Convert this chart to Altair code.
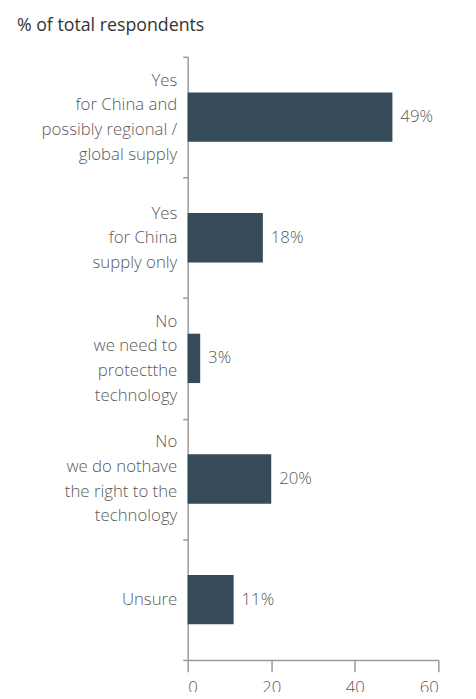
import altair as alt
import pandas as pd

categories = [
    "Yes|for China and|possibly regional /|global supply",
    "Yes|for China|supply only",
    "No|we need to|protectthe|technology",
    "No|we do nothave|the right to the|technology",
    "Unsure",
]
values = [49, 18, 3, 20, 11]
x_ticks = [0, 20, 40, 60]

df = pd.DataFrame({"cat": categories, "val": values})

FONT = "Open Sans"
TXT = "#5a5a5a"
AX = "#9a9a9a"
BAR = "#364b5a"
LH = 25

# shift multi-line labels up so the block is centred on its band
offset_cond = [
    {"test": f"datum.value === {c!r}", "value": -(len(c.split('|')) - 1) * LH / 2}
    for c in categories
]

y_enc = alt.Y(
    "cat:N",
    sort=None,
    scale=alt.Scale(paddingInner=0, paddingOuter=0),
    axis=alt.Axis(
        title=None,
        labelExpr="split(datum.label, '|')",
        labelOffset={"condition": offset_cond, "value": 0},
        tickBand="extent",
        tickSize=5,
        labelPadding=6,
        labelFont=FONT,
        labelFontSize=17,
        labelFontWeight=300,
        labelLineHeight=LH,
        labelColor=TXT,
        domainColor=AX,
        tickColor=AX,
        domainWidth=1.5,
        tickWidth=1.5,
        labelLimit=300,
    ),
)
x_enc = alt.X(
    "val:Q",
    scale=alt.Scale(domain=[0, 60], nice=False),
    axis=alt.Axis(
        title=None,
        values=x_ticks,
        grid=False,
        tickSize=12,
        labelPadding=8,
        labelFont=FONT,
        labelFontSize=17,
        labelFontWeight=300,
        labelColor=TXT,
        domainColor=AX,
        tickColor=AX,
        domainWidth=1.5,
        tickWidth=1.5,
    ),
)

base = alt.Chart(df).encode(y=y_enc, x=x_enc)
bars = base.mark_bar(size=50, color=BAR)
labels = base.transform_calculate(lbl="datum.val + '%'").mark_text(
    align="left", baseline="middle", dx=8, font=FONT, fontSize=17,
    fontWeight=300, color=TXT
).encode(text="lbl:N")

chart = (
    alt.layer(bars, labels)
    .properties(
        width=254,
        height=611,
        autosize=alt.AutoSizeParams(type="none"),
        padding={"left": 182, "top": 45, "right": 30, "bottom": 28},
        title=alt.TitleParams(
            "% of total respondents",
            anchor="start",
            frame="group",
            dx=-173,
            offset=13,
            font=FONT,
            fontSize=18,
            fontWeight=500,
            color="#333333",
        ),
    )
    .configure_view(stroke=None)
)

chart.save("out.html", embed_options={"renderer": "svg", "actions": False})
